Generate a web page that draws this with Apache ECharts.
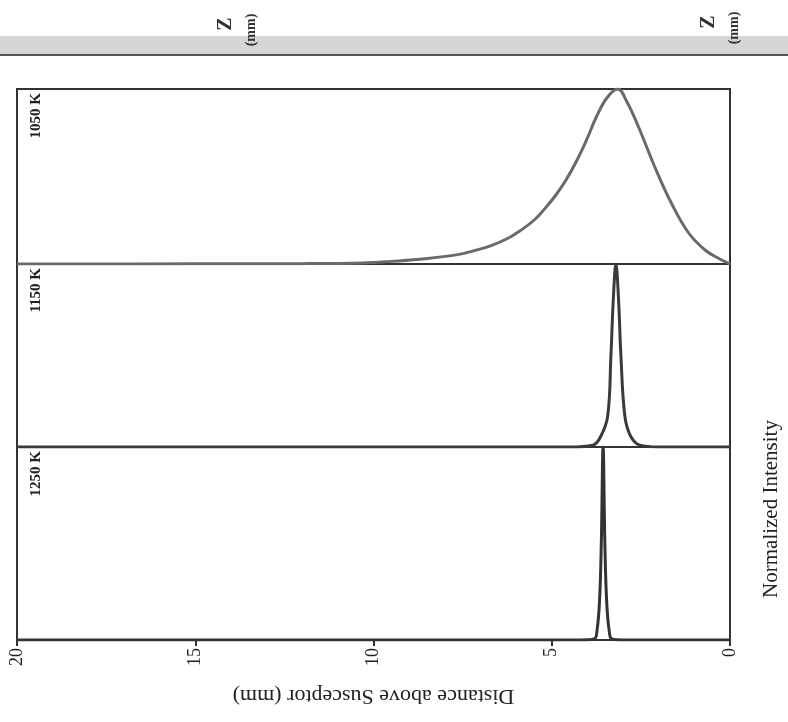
<!DOCTYPE html>
<html>
<head>
<meta charset="utf-8">
<script src="https://cdn.jsdelivr.net/npm/echarts@6/dist/echarts.min.js"></script>
<style>html,body{margin:0;padding:0;background:#fff;}#c{width:788px;height:722px;}</style>
</head>
<body>
<div id="c"></div>
<script>
// Distance above susceptor (mm) and normalized intensity for each temperature
const dist1050 = [0, 0.3, 0.7, 1.17, 1.65, 2.1, 2.58, 2.9, 3.15, 3.45, 3.75, 4.0, 4.3, 4.6, 4.9, 5.2, 5.5, 5.85, 6.2, 6.7, 7.2, 7.6, 8.55, 9.5, 10.3, 12, 15, 20];
const int1050  = [0, 0.03, 0.08, 0.18, 0.35, 0.55, 0.79, 0.93, 1.0, 0.95, 0.84, 0.72, 0.59, 0.48, 0.39, 0.315, 0.25, 0.195, 0.15, 0.105, 0.075, 0.055, 0.03, 0.015, 0.006, 0.002, 0.001, 0];

const dist1150 = [0, 2.0, 2.53, 2.79, 2.95, 3.06, 3.13, 3.2, 3.27, 3.34, 3.43, 3.62, 3.85, 4.5, 10, 20];
const int1150  = [0, 0.0, 0.01, 0.06, 0.17, 0.5, 0.82, 1.0, 0.82, 0.5, 0.17, 0.06, 0.01, 0.0, 0, 0];

const dist1250 = [0, 3.0, 3.31, 3.39, 3.46, 3.51, 3.56, 3.61, 3.66, 3.73, 3.81, 4.2, 10, 20];
const int1250  = [0, 0.0, 0.005, 0.05, 0.2, 0.5, 1.0, 0.5, 0.2, 0.05, 0.005, 0.0, 0, 0];

const panelLabels = ['1050 K', '1150 K', '1250 K'];
const xTicks = [0, 5, 10, 15, 20];

const pair = (xs, ys) => xs.map((x, i) => [x, ys[i]]);

const grids = [
  {top: 89, height: 175},
  {top: 264, height: 183},
  {top: 447, height: 193}
];
const serif = '"Liberation Serif","DejaVu Serif",serif';

const chart = echarts.init(document.getElementById('c'), null, {renderer: 'canvas'});
const xAxes = grids.map((g, i) => ({
  type: 'value', gridIndex: i, min: 0, max: 20, interval: 5, inverse: true,
  axisLine: {show: i === 2, lineStyle: {color: '#333', width: 2}},
  axisTick: {show: i === 2, length: 6, lineStyle: {color: '#333', width: 2}},
  axisLabel: {show: i === 2, rotate: 90, fontFamily: serif, fontSize: 18, color: '#222', margin: 8,
    formatter: v => xTicks.includes(v) ? String(v) : ''},
  splitLine: {show: false},
  name: i === 2 ? 'Distance above Susceptor (mm)' : '',
  nameLocation: 'middle', nameGap: 45, nameRotate: 180,
  nameTextStyle: {fontFamily: serif, fontSize: 22, color: '#222'}
}));
const yAxes = grids.map((g, i) => ({
  type: 'value', gridIndex: i, min: 0, max: 1,
  show: false, splitLine: {show: false}
}));
const colors = ['#6a6a6a', '#3a3a3a', '#333'];
const datas = [pair(dist1050, int1050), pair(dist1150, int1150), pair(dist1250, int1250)];
const series = datas.map((d, i) => ({
  type: 'line', xAxisIndex: i, yAxisIndex: i, data: d, showSymbol: false,
  smooth: 0.4, lineStyle: {color: colors[i], width: 3}, silent: true, animation: false
}));

const graphic = [
  {type: 'rect', shape: {x: 0, y: 36, width: 788, height: 20}, style: {fill: '#d6d6d6'}, z: 0},
  {type: 'line', shape: {x1: 0, y1: 55, x2: 788, y2: 55}, style: {stroke: '#555', lineWidth: 2}},
  {type: 'text', x: 226, y: 24, rotation: Math.PI / 2,
    style: {text: 'Z', font: 'bold 20px ' + serif, fill: '#333', align: 'center', verticalAlign: 'middle'}},
  {type: 'text', x: 251, y: 30, rotation: Math.PI / 2,
    style: {text: '(mm)', font: 'bold 14px ' + serif, fill: '#333', align: 'center', verticalAlign: 'middle'}},
  {type: 'text', x: 709, y: 22, rotation: Math.PI / 2,
    style: {text: 'Z', font: 'bold 20px ' + serif, fill: '#333', align: 'center', verticalAlign: 'middle'}},
  {type: 'text', x: 734, y: 28, rotation: Math.PI / 2,
    style: {text: '(mm)', font: 'bold 14px ' + serif, fill: '#333', align: 'center', verticalAlign: 'middle'}},
  {type: 'text', x: 771, y: 509, rotation: Math.PI / 2,
    style: {text: 'Normalized Intensity', font: '21px ' + serif, fill: '#222', align: 'center', verticalAlign: 'middle'}}
].concat(panelLabels.map((t, i) => ({
  type: 'text', x: 36, y: grids[i].top + 4, rotation: Math.PI / 2,
  style: {text: t, font: 'bold 15px ' + serif, fill: '#222', align: 'right', verticalAlign: 'middle'}
})));

chart.setOption({
  animation: false,
  backgroundColor: '#fff',
  grid: grids.map(g => ({left: 17, right: 58, top: g.top, height: g.height, show: true,
    borderColor: '#333', borderWidth: 2, backgroundColor: 'transparent'})),
  xAxis: xAxes,
  yAxis: yAxes,
  series: series,
  graphic: graphic
});
</script>
</body>
</html>
